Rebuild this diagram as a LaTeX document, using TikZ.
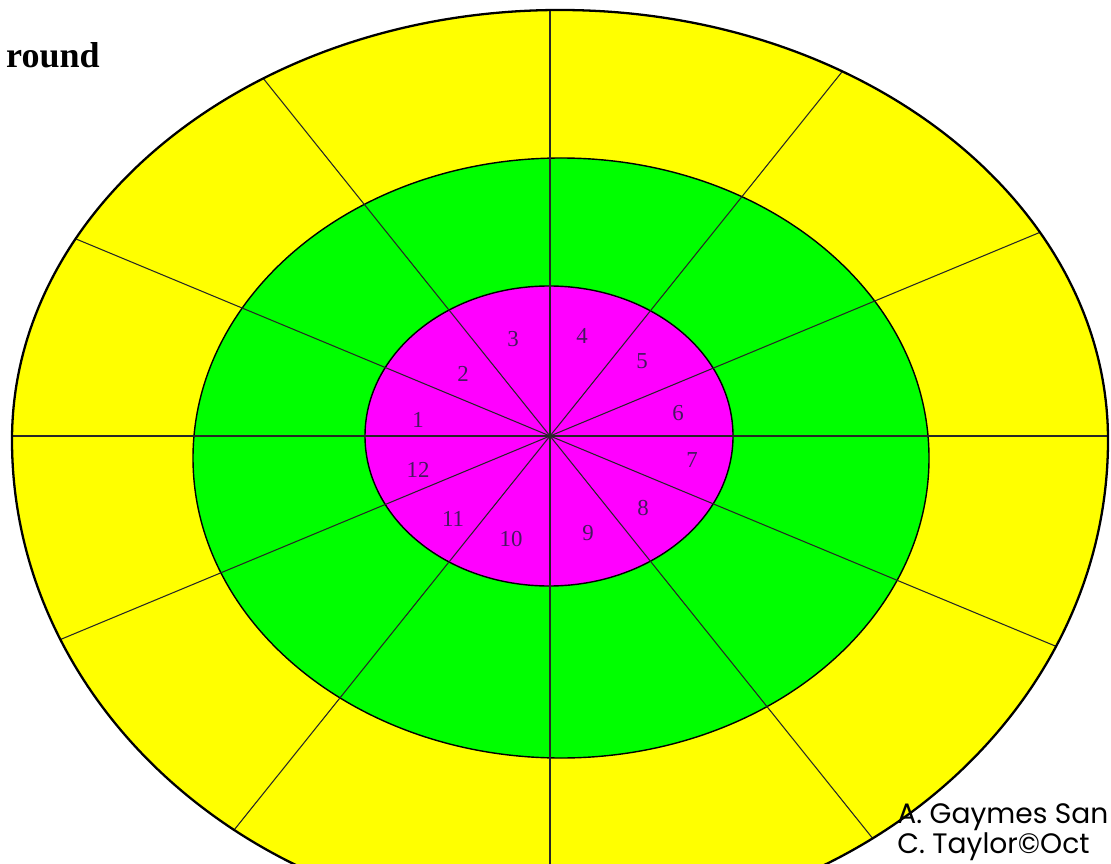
\documentclass[tikz,border=0pt]{standalone}
\usepackage{fontspec}
\setmainfont{Liberation Serif}
\newfontfamily\signfont{Poppins}

\definecolor{targetyellow}{RGB}{255,255,0}
\definecolor{targetgreen}{RGB}{0,255,0}
\definecolor{targetpink}{RGB}{255,0,255}
\definecolor{numberink}{RGB}{70,25,95}

\begin{document}
\begin{tikzpicture}[
    x=0.02cm, y=-0.02cm,
    ring/.style={draw=black, line width=0.8pt},
    spoke/.style={draw=black!85, line width=0.6pt},
    sector/.style={text=numberink, font=\fontsize{13}{15}\selectfont, inner sep=0pt},
    signline/.style={font=\signfont\fontsize{16}{19}\selectfont, anchor=base west, inner sep=0pt}
]
\useasboundingbox (0,0) rectangle (1111,864);
\clip (0,0) rectangle (1111,864);

% yellow rim, flatter on top than below
\path[fill=targetyellow] (12,440)
    arc[start angle=180, end angle=360, x radius=548, y radius=430]
    arc[start angle=0, end angle=180, x radius=548, y radius=485] -- cycle;

\path[ring, fill=targetgreen] (561,458) ellipse [x radius=368, y radius=300];
\path[ring, fill=targetpink] (549,436) ellipse [x radius=184, y radius=150];

\coordinate (hub) at (550,436);

% twelve spokes, cut at the rim
\begin{scope}
\clip (12,440)
    arc[start angle=180, end angle=360, x radius=548, y radius=430]
    arc[start angle=0, end angle=180, x radius=548, y radius=485] -- cycle;
\foreach \a in {0,30,...,330}
    \draw[spoke] (hub) -- ++({1200*cos(\a)},{864*sin(\a)});
\end{scope}

\draw[line width=1.3pt] (12,440)
    arc[start angle=180, end angle=360, x radius=548, y radius=430]
    arc[start angle=0, end angle=180, x radius=548, y radius=485] -- cycle;

% sector numbers
\foreach \n/\x/\y in {1/418/420, 2/463/374, 3/513/339, 4/582/336,
    5/642/361, 6/678/413, 7/692/460, 8/643/508,
    9/588/533, 10/511/539, 11/453/519, 12/418/470}
    \node[sector] (num\n) at (\x,\y) {\n};

\node[font=\bfseries\fontsize{20.5}{24}\selectfont, anchor=base east, inner sep=0pt]
    (title) at (100,68) {round};

\node[signline] (signa) at (897,823) {A. Gaymes San};
\node[signline] (signb) at (897,853) {C. Taylor©Oct};

\end{tikzpicture}
\end{document}
